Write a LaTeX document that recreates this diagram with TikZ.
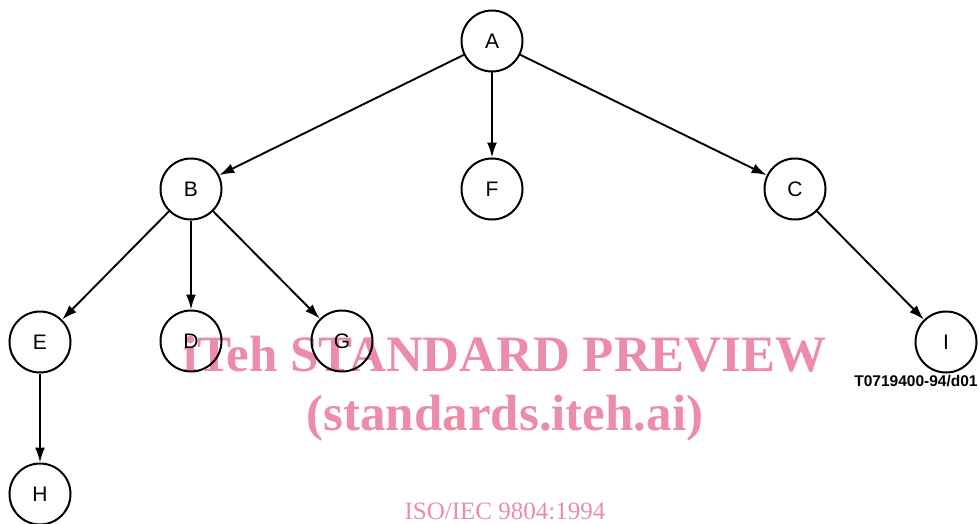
\documentclass[tikz,border=0pt]{standalone}
\usepackage{fontspec}
\setmainfont{Liberation Serif}
\newfontfamily\labelfont{Liberation Sans}
\usetikzlibrary{arrows.meta}
\definecolor{wmpink}{RGB}{236,140,168}
\tikzset{
  vertex/.style={circle, draw=black, line width=2pt, minimum size=61pt, inner sep=0pt,
                 font=\labelfont\fontsize{21}{21}\selectfont},
  edge/.style={line width=1.9pt, -{Latex[length=15pt,width=10pt]}},
  watermark/.style={text=wmpink, font=\bfseries\fontsize{51}{51}\selectfont, anchor=base},
  isomark/.style={text=wmpink, font=\fontsize{25}{25}\selectfont, anchor=base},
  figref/.style={font=\labelfont\bfseries\fontsize{15.5}{15.5}\selectfont, anchor=base}
}
\begin{document}
\begin{tikzpicture}[x=1pt,y=-1pt]
  \useasboundingbox (0,0) rectangle (979,524);
  % watermark lettering
  \node[watermark] (wm1) at (505,371) {iTeh STANDARD PREVIEW};
  \node[watermark] (wm2) at (505,430) {(standards.iteh.ai)};
  \node[isomark] (wm3) at (505,519) {ISO/IEC 9804:1994};
  % tree vertices
  \node[vertex] (A) at (492,41) {A};
  \node[vertex] (B) at (191,189) {B};
  \node[vertex] (F) at (492,189) {F};
  \node[vertex] (C) at (795,189) {C};
  \node[vertex] (E) at (40,342) {E};
  \node[vertex] (D) at (191,341) {D};
  \node[vertex] (G) at (342,341) {G};
  \node[vertex] (I) at (946,342) {I};
  \node[vertex] (H) at (40,494) {H};
  % tree edges
  \draw[edge] (A) -- (B);
  \draw[edge] (A) -- (F);
  \draw[edge] (A) -- (C);
  \draw[edge] (B) -- (E);
  \draw[edge] (B) -- (D);
  \draw[edge] (B) -- (G);
  \draw[edge] (C) -- (I);
  \draw[edge] (E) -- (H);
  % figure reference
  \node[figref] (ref) at (916,386) {T0719400-94/d01};
\end{tikzpicture}
\end{document}
